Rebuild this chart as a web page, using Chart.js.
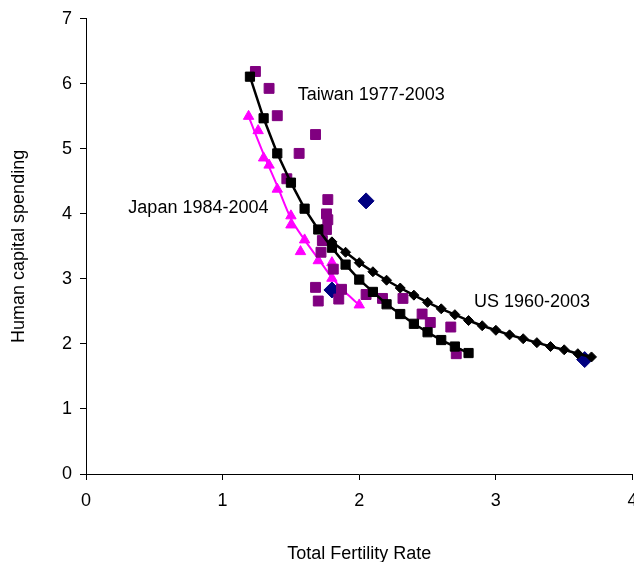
<!DOCTYPE html>
<html>
<head>
<meta charset="utf-8">
<script src="https://cdn.jsdelivr.net/npm/chart.js@4.4.1/dist/chart.umd.min.js"></script>
<style>
  html, body { margin: 0; padding: 0; overflow: hidden; background: #fff; }
  #wrap { width: 660px; height: 570px; }
</style>
</head>
<body>
<div id="wrap"><canvas id="myChart" width="660" height="570"></canvas></div>
<script>
// Taiwan 1977-2003, fitted curve (black squares)
var twFitTfr = [1.2, 1.3, 1.4, 1.5, 1.6, 1.7, 1.8, 1.9, 2.0, 2.1, 2.2, 2.3, 2.4, 2.5, 2.6, 2.7, 2.8];
var twFitHc  = [6.11, 5.47, 4.93, 4.48, 4.08, 3.76, 3.48, 3.22, 2.99, 2.80, 2.61, 2.46, 2.31, 2.18, 2.06, 1.96, 1.86];

// Taiwan observed (purple squares)
var twTfr = [1.24, 1.34, 1.40, 1.47, 1.56, 1.68, 1.77, 1.76, 1.77, 1.76, 1.73, 1.72, 1.81, 1.68, 1.70, 1.87, 1.85, 2.05, 2.17, 2.32, 2.46, 2.52, 2.67, 2.71];
var twHc  = [6.19, 5.93, 5.51, 4.54, 4.93, 5.22, 4.22, 4.00, 3.91, 3.76, 3.59, 3.41, 3.15, 2.87, 2.66, 2.84, 2.69, 2.76, 2.70, 2.70, 2.46, 2.33, 2.26, 1.85];

// Japan 1984-2004 (magenta triangles) and its trend line
var jpTfr = [1.19, 1.26, 1.30, 1.34, 1.40, 1.50, 1.50, 1.60, 1.57, 1.70, 1.80, 1.80, 2.00];
var jpHc  = [5.50, 5.28, 4.86, 4.75, 4.38, 3.97, 3.83, 3.60, 3.42, 3.28, 3.25, 3.01, 2.60];
var jpLineTfr = [1.19, 1.30, 1.40, 1.50, 1.60, 1.70, 1.80, 1.90, 2.00];
var jpLineHc  = [5.50, 4.92, 4.43, 3.93, 3.60, 3.31, 3.02, 2.79, 2.60];

// US 1960-2003, fitted curve (black diamonds)
var usFitTfr = [1.8, 1.9, 2.0, 2.1, 2.2, 2.3, 2.4, 2.5, 2.6, 2.7, 2.8, 2.9, 3.0, 3.1, 3.2, 3.3, 3.4, 3.5, 3.6, 3.7];
var usFitHc  = [3.57, 3.41, 3.25, 3.11, 2.98, 2.86, 2.75, 2.64, 2.54, 2.45, 2.36, 2.28, 2.21, 2.14, 2.08, 2.02, 1.96, 1.91, 1.85, 1.80];

// US observed (navy diamonds)
var usTfr = [2.05, 1.80, 3.65];
var usHc  = [4.20, 2.83, 1.76];

var xTicks = [0, 1, 2, 3, 4];
var yTicks = [0, 1, 2, 3, 4, 5, 6, 7];

// series names written inside the plot
var notes = [
  { text: 'Taiwan 1977-2003', x: 1.55, y: 5.83 },
  { text: 'Japan 1984-2004', x: 0.31, y: 4.09 },
  { text: 'US 1960-2003', x: 2.84, y: 2.65 }
];

var FONT = '"Liberation Sans", Arial, sans-serif';

function pts(xs, ys) {
  return xs.map(function (x, i) { return { x: x, y: ys[i] }; });
}

var notePlugin = {
  id: 'notes',
  afterDatasetsDraw: function (chart) {
    var ctx = chart.ctx, xs = chart.scales.x, ys = chart.scales.y;
    ctx.save();
    ctx.font = '18px ' + FONT;
    ctx.fillStyle = '#000';
    ctx.textAlign = 'left';
    ctx.textBaseline = 'middle';
    notes.forEach(function (n) {
      ctx.fillText(n.text, xs.getPixelForValue(n.x), ys.getPixelForValue(n.y));
    });
    ctx.restore();
  }
};

var config = {
  type: 'scatter',
  data: {
    datasets: [
      {
        data: pts(twFitTfr, twFitHc), showLine: true,
        borderColor: '#000', backgroundColor: '#000', borderWidth: 2.5,
        pointStyle: 'rect', pointRadius: 6.5, pointBorderWidth: 1, order: 0
      },
      {
        data: pts(usFitTfr, usFitHc), showLine: true,
        borderColor: '#000', backgroundColor: '#000', borderWidth: 2.5,
        pointStyle: 'rectRot', pointRadius: 5, pointBorderWidth: 1, order: 0
      },
      {
        data: pts(twTfr, twHc),
        borderColor: '#800080', backgroundColor: '#800080',
        pointStyle: 'rect', pointRadius: 7, pointBorderWidth: 1, order: 1
      },
      {
        data: pts(jpLineTfr, jpLineHc), showLine: true,
        borderColor: '#ff00ff', borderWidth: 2, pointRadius: 0,
        cubicInterpolationMode: 'monotone', order: 2
      },
      {
        data: pts(jpTfr, jpHc),
        borderColor: '#ff00ff', backgroundColor: '#ff00ff',
        pointStyle: 'triangle', pointRadius: 6, pointBorderWidth: 1, order: 2
      },
      {
        data: pts(usTfr, usHc),
        borderColor: '#000080', backgroundColor: '#000080',
        pointStyle: 'rectRot', pointRadius: 8, pointBorderWidth: 1, order: 3
      }
    ]
  },
  options: {
    responsive: false,
    animation: false,
    layout: { padding: { left: 0, top: 16, right: 27.5, bottom: 0 } },
    plugins: { legend: { display: false }, tooltip: { enabled: false } },
    scales: {
      x: {
        type: 'linear', min: 0, max: 4,
        afterBuildTicks: function (s) { s.ticks = xTicks.map(function (v) { return { value: v }; }); },
        afterFit: function (s) { s.height = 96; },
        grid: { drawOnChartArea: false, drawTicks: true, tickLength: 6, color: '#000' },
        border: { color: '#000', width: 1 },
        ticks: { padding: 10, color: '#000', maxRotation: 0, font: { family: FONT, size: 18 } },
        title: { display: true, text: 'Total Fertility Rate', color: '#000',
                 font: { family: FONT, size: 18 }, padding: { top: 0, bottom: 5 } }
      },
      y: {
        type: 'linear', min: 0, max: 7,
        afterBuildTicks: function (s) { s.ticks = yTicks.map(function (v) { return { value: v }; }); },
        afterFit: function (s) { s.width = 86; },
        grid: { drawOnChartArea: false, drawTicks: true, tickLength: 6, color: '#000' },
        border: { color: '#000', width: 1 },
        ticks: { padding: 8, color: '#000', font: { family: FONT, size: 18 } },
        title: { display: true, text: 'Human capital spending', color: '#000',
                 font: { family: FONT, size: 18 }, padding: { top: 8, bottom: 0 } }
      }
    }
  },
  plugins: [notePlugin]
};

var myChart = new Chart(document.getElementById('myChart'), config);
</script>
</body>
</html>
